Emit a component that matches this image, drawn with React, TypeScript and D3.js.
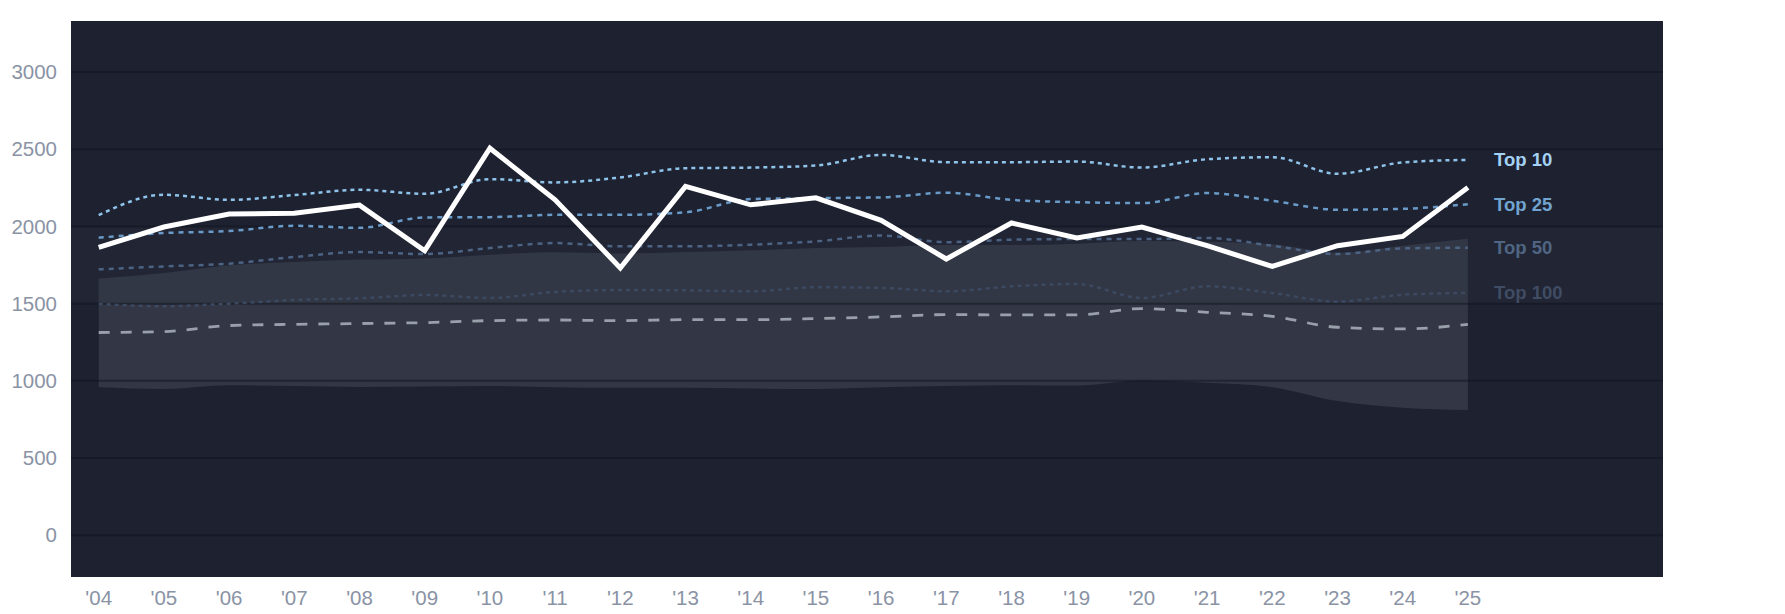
import React from 'react';
import * as d3 from 'd3';

// season labels and values
const years = [2004, 2005, 2006, 2007, 2008, 2009, 2010, 2011, 2012, 2013, 2014, 2015, 2016, 2017, 2018, 2019, 2020, 2021, 2022, 2023, 2024, 2025];
const yearLabels = ["'04", "'05", "'06", "'07", "'08", "'09", "'10", "'11", "'12", "'13", "'14", "'15", "'16", "'17", "'18", "'19", "'20", "'21", "'22", "'23", "'24", "'25"];

const mainSeries = [1864, 1996, 2080, 2086, 2138, 1842, 2506, 2172, 1731, 2259, 2140, 2185, 2039, 1789, 2022, 1925, 1996, 1875, 1741, 1875, 1935, 2252];
const top10 = [2073, 2205, 2172, 2203, 2237, 2211, 2306, 2285, 2317, 2377, 2381, 2394, 2463, 2416, 2416, 2420, 2381, 2435, 2448, 2341, 2414, 2431];
const top25 = [1927, 1957, 1970, 2004, 1991, 2058, 2060, 2075, 2075, 2091, 2177, 2183, 2188, 2218, 2172, 2157, 2151, 2216, 2166, 2108, 2114, 2144];
const top50 = [1722, 1741, 1759, 1802, 1834, 1821, 1860, 1892, 1871, 1871, 1882, 1903, 1941, 1898, 1914, 1918, 1918, 1925, 1875, 1821, 1858, 1862];
const top100 = [1498, 1483, 1500, 1524, 1535, 1556, 1537, 1576, 1588, 1586, 1580, 1606, 1602, 1580, 1612, 1627, 1537, 1612, 1569, 1513, 1558, 1569];
const medianSeries = [1313, 1319, 1358, 1366, 1371, 1377, 1390, 1394, 1390, 1396, 1396, 1403, 1414, 1429, 1427, 1427, 1468, 1444, 1418, 1347, 1336, 1366];
const bandUpper = [1662, 1698, 1748, 1770, 1785, 1793, 1817, 1832, 1825, 1834, 1845, 1860, 1866, 1879, 1879, 1888, 1905, 1900, 1885, 1830, 1875, 1920];
const bandLower = [959, 948, 972, 966, 961, 963, 966, 959, 955, 955, 950, 948, 959, 966, 972, 970, 1002, 987, 959, 869, 826, 811];

const yTicks = [0, 500, 1000, 1500, 2000, 2500, 3000];
const typicalRange = [1500, 2000];

const tiers = [
  { label: 'Top 10', values: top10, color: '#8fc3ea', text: '#a4d2f4', dash: '4,4' },
  { label: 'Top 25', values: top25, color: '#6a9bc8', text: '#72a4d0', dash: '5,5' },
  { label: 'Top 50', values: top50, color: '#4c6383', text: '#4f6583', dash: '5,5' },
  { label: 'Top 100', values: top100, color: '#3b4961', text: '#3f4c63', dash: '4,4' },
];

export default function App() {
  const width = 1785;
  const height = 614;
  const plot = { left: 71, right: 1663, top: 21, bottom: 577 };

  const x = d3.scaleLinear().domain([2004, 2025]).range([98.7, 1467.9]);
  const y = d3.scaleLinear().domain([-270, 3330]).range([plot.bottom, plot.top]);

  const smooth = (vals: number[]) =>
    d3.line<number>()
      .x((_, i) => x(years[i]))
      .y(d => y(d))
      .curve(d3.curveMonotoneX)(vals) || '';

  const straight = d3.line<number>()
    .x((_, i) => x(years[i]))
    .y(d => y(d));

  const band = d3.area<number>()
    .x((_, i) => x(years[i]))
    .y0((_, i) => y(bandLower[i]))
    .y1(d => y(d))
    .curve(d3.curveMonotoneX);

  const font = 'Liberation Sans, Arial, Helvetica, sans-serif';
  const last = years.length - 1;

  return (
    <div style={{ position: 'absolute', left: 0, top: 0 }}>
      <svg width={width} height={height} style={{ display: 'block', background: '#ffffff' }}>
        <rect x={plot.left} y={plot.top} width={plot.right - plot.left} height={plot.bottom - plot.top} fill="#1d2130" />

        {/* faint typical range strip */}
        <rect
          x={plot.left}
          y={y(typicalRange[1])}
          width={plot.right - plot.left}
          height={y(typicalRange[0]) - y(typicalRange[1])}
          fill="#ffffff"
          opacity={0.018}
        />

        <path d={band(bandUpper) || ''} fill="#343847" opacity={0.95} />

        {yTicks.map(t => (
          <line key={t} x1={plot.left} x2={plot.right} y1={y(t)} y2={y(t)} stroke="#10131b" strokeOpacity={0.5} strokeWidth={2} />
        ))}

        <path d={smooth(medianSeries)} fill="none" stroke="#9aa0ab" strokeWidth={2.8} strokeDasharray="11,11" />

        {tiers.slice().reverse().map(t => (
          <path key={t.label} d={smooth(t.values)} fill="none" stroke={t.color} strokeWidth={2.5} strokeDasharray={t.dash} />
        ))}

        <path d={straight(mainSeries) || ''} fill="none" stroke="#ffffff" strokeWidth={5} strokeLinejoin="miter" />

        {tiers.map(t => (
          <text
            key={t.label}
            x={1494}
            y={y(t.values[last])}
            dy="0.35em"
            fill={t.text}
            fontFamily={font}
            fontSize={18.5}
            fontWeight="bold"
          >
            {t.label}
          </text>
        ))}

        {yTicks.map(t => (
          <text key={t} x={57} y={y(t)} dy="0.35em" textAnchor="end" fill="#8a93a5" fontFamily={font} fontSize={20.5}>
            {t}
          </text>
        ))}

        {years.map((yr, i) => (
          <text key={yr} x={x(yr)} y={605} textAnchor="middle" fill="#8a93a5" fontFamily={font} fontSize={20.5}>
            {yearLabels[i]}
          </text>
        ))}
      </svg>
    </div>
  );
}
